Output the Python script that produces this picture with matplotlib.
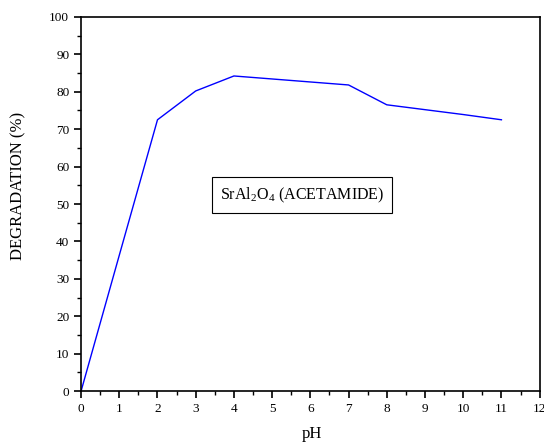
import matplotlib
matplotlib.use('Agg')
import matplotlib.pyplot as plt
from matplotlib.ticker import MultipleLocator

plt.rcParams['font.family'] = 'Liberation Serif'
plt.rcParams['mathtext.fontset'] = 'custom'
plt.rcParams['mathtext.rm'] = 'Liberation Serif'

# pH vs degradation data
ph = [0, 1, 2, 3, 4, 7, 8, 9, 10, 11]
degradation = [0, 36.3, 72.5, 80.2, 84.2, 81.8, 76.5, 75.2, 73.9, 72.5]

fig = plt.figure(figsize=(5.44, 4.43), dpi=100)
ax = fig.add_axes([0.149, 0.117, 0.843, 0.845])

ax.plot(ph, degradation, color='blue', linewidth=1.0)

ax.set_xlim(0, 12)
ax.set_ylim(0, 100)
ax.xaxis.set_major_locator(MultipleLocator(1))
ax.xaxis.set_minor_locator(MultipleLocator(0.5))
ax.yaxis.set_major_locator(MultipleLocator(10))
ax.yaxis.set_minor_locator(MultipleLocator(5))
ax.tick_params(which='major', direction='out', length=5, width=1.2, labelsize=9.5)
ax.tick_params(which='minor', direction='out', length=3, width=1.0)
ax.tick_params(top=False, right=False)
for s in ax.spines.values():
    s.set_linewidth(1.2)

ax.set_xlabel('pH', fontsize=12)
ax.set_ylabel('DEGRADATION (%)', fontsize=12)
ax.xaxis.set_label_coords(0.503, -0.094)
ax.yaxis.set_label_coords(-0.12, 0.548)

ax.text(5.79, 52.4, r'SrAl$_{2}$O$_{4}$ (ACETAMIDE)', fontsize=11.5,
        ha='center', va='center',
        bbox=dict(boxstyle='square,pad=0.5', facecolor='white',
                  edgecolor='black', linewidth=0.8))

fig.savefig('out.png', dpi=100)
